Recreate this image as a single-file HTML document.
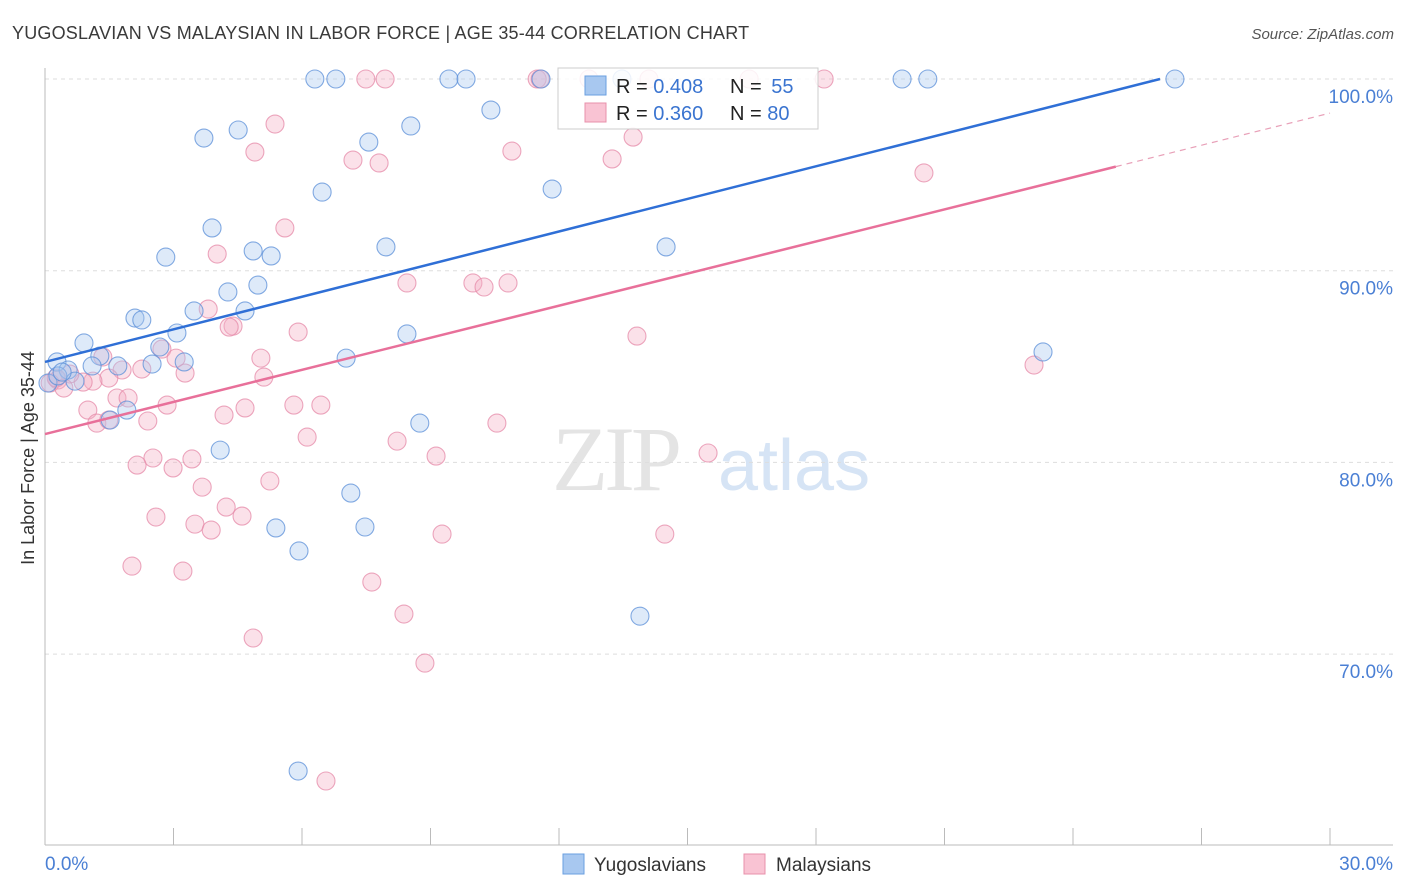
<!DOCTYPE html>
<html><head><meta charset="utf-8"><style>
body{margin:0;background:#fff;font-family:"Liberation Sans",sans-serif}
svg{display:block}
</style></head><body>
<svg id="chart" width="1406" height="892" xmlns="http://www.w3.org/2000/svg">
<text x="12" y="39" font-size="18" fill="#3a3a3a" letter-spacing="0.2">YUGOSLAVIAN VS MALAYSIAN IN LABOR FORCE | AGE 35-44 CORRELATION CHART</text>
<text x="1394" y="39" font-size="15" fill="#555" font-style="italic" text-anchor="end">Source: ZipAtlas.com</text>
<g>
<text x="552" y="490" font-size="92" fill="#e4e4e4" font-family="Liberation Serif,serif" letter-spacing="-4">ZIP</text>
<text x="718" y="490" font-size="72" fill="#d6e4f5">atlas</text>
</g>
<g id="grid"></g>
<g id="axes"></g>
<g id="pts"></g>
<g id="lines"></g>
<text transform="translate(34,458) rotate(-90)" font-size="18" fill="#333" text-anchor="middle">In Labor Force | Age 35-44</text>
<g>
<rect x="558" y="68" width="260" height="61" fill="#fff" fill-opacity="0.85" stroke="#ccc"/>
<rect x="585" y="76" width="21" height="19" fill="#a8c8f0" stroke="#6a9fe0"/>
<rect x="585" y="103" width="21" height="19" fill="#f9c3d3" stroke="#e890ab"/>
<text x="616" y="93" font-size="20" fill="#222">R = <tspan fill="#3a74d0">0.408</tspan></text>
<text x="730" y="93" font-size="20" fill="#222">N = <tspan dx="4" fill="#3a74d0">55</tspan></text>
<text x="616" y="120" font-size="20" fill="#222">R = <tspan fill="#3a74d0">0.360</tspan></text>
<text x="730" y="120" font-size="20" fill="#222">N = <tspan fill="#3a74d0">80</tspan></text>
</g>
<g>
<rect x="563" y="854" width="21" height="20" fill="#a8c8f0" stroke="#6a9fe0"/>
<text x="594" y="871" font-size="19" fill="#333">Yugoslavians</text>
<rect x="744" y="854" width="21" height="20" fill="#f9c3d3" stroke="#e890ab"/>
<text x="776" y="871" font-size="19" fill="#333">Malaysians</text>
</g>
</svg>
<script>
const yTicks=[70,80,90,100];
const yTickLabels=["70.0%","80.0%","90.0%","100.0%"];
const xTickLabels=["0.0%","30.0%"];
const blueX=[6.30,6.79,9.43,9.83,11.58,13.47,20.01,20.61,26.38,10.41,3.71,4.51,7.56,8.54,6.47,11.84,3.90,2.82,4.86,5.28,7.96,14.50,4.27,4.97,2.10,2.26,3.48,4.67,3.08,8.45,0.91,2.68,0.28,1.28,1.70,2.50,3.25,7.03,23.30,0.54,0.70,1.10,1.91,1.52,8.75,4.09,7.14,5.39,7.47,5.93,13.89,5.91,0.07,0.30,0.40];
const blueY=[100,100,100,100,100,100,100,100,100,98.38,96.92,97.34,96.71,97.55,94.10,94.26,92.23,90.71,91.03,90.77,91.24,91.24,88.89,89.25,87.53,87.43,87.90,87.90,86.75,86.70,86.23,86.02,85.24,85.55,85.03,85.13,85.24,85.44,85.76,84.82,84.24,85.03,82.73,82.21,82.05,80.64,78.40,76.58,76.63,75.38,71.98,63.90,84.14,84.51,84.71];
const pinkX=[7.49,7.94,11.49,11.56,12.70,14.10,16.44,18.19,5.37,13.73,4.90,7.19,7.80,10.90,13.24,20.52,5.60,4.02,8.45,9.99,10.25,10.81,3.81,4.39,4.30,5.91,13.82,1.35,2.73,3.06,5.04,3.27,5.11,23.09,1.80,2.26,1.49,1.12,0.89,0.30,0.58,1.00,1.68,1.94,2.85,4.18,4.67,5.81,6.44,1.21,1.49,2.40,6.12,8.22,10.55,9.13,2.52,2.15,2.99,3.43,15.48,3.67,5.25,4.23,4.60,2.59,3.50,3.88,9.27,14.47,2.03,3.22,7.63,8.38,4.86,8.87,6.56,0.12,0.26,0.44];
const pinkY=[100,100,100,100,100,100,100,100,97.65,96.97,96.19,95.77,95.62,96.24,95.83,95.10,92.23,90.87,89.36,89.36,89.15,89.36,88.00,87.11,87.06,86.80,86.59,85.50,85.91,85.44,85.44,84.66,84.45,85.08,84.82,84.87,84.40,84.24,84.19,84.30,84.61,82.73,83.36,83.36,82.99,82.47,82.84,82.99,82.99,82.05,82.21,82.16,81.32,81.11,82.05,80.33,80.23,79.86,79.71,80.18,80.49,78.71,79.03,77.67,77.20,77.15,76.78,76.47,76.26,76.26,74.59,74.33,73.76,72.09,70.84,69.53,63.38,84.14,84.40,83.88];
const blueLine=[85.24,0.567];
const pinkLine=[81.48,0.558];
const NS="http://www.w3.org/2000/svg";
const X=v=>45+v*1285/30;
const Y=v=>79+(100-v)*19.17;
function mk(t,a,p){const e=document.createElementNS(NS,t);for(const k in a)e.setAttribute(k,a[k]);p.appendChild(e);return e;}
const grid=document.getElementById('grid'),axes=document.getElementById('axes'),pts=document.getElementById('pts'),lines=document.getElementById('lines');
yTicks.forEach((t,i)=>{
 const l=mk('line',{x1:45,x2:1393,y1:Y(t),y2:Y(t),stroke:'#ddd','stroke-dasharray':'4,4'},grid);
 
 
 const tx=mk('text',{x:1393,y:Y(t)+24,'font-size':19,fill:'#4a7fd4','text-anchor':'end'},axes);
 tx.textContent=yTickLabels[i];
 
 
});
const ya=mk('line',{x1:45,x2:45,y1:68,y2:845,stroke:'#bbb'},axes);


const xa=mk('line',{x1:45,x2:1393,y1:845,y2:845,stroke:'#bbb'},axes);


for(let i=0;i<=10;i++){
 const t=mk('line',{x1:X(i*3),x2:X(i*3),y1:828,y2:845,stroke:'#bbb'},axes);
 
 
}
[[0,'start',45],[30,'end',1393]].forEach((d,i)=>{
 const tx=mk('text',{x:d[2],y:870,'font-size':19,fill:'#4a7fd4','text-anchor':d[1]},axes);
 tx.textContent=xTickLabels[i];
 
 
});
function dots(xs,ys,fill,stroke,name){
 xs.forEach((x,i)=>{
  const c=mk('circle',{cx:X(x),cy:Y(ys[i]),r:9,fill:fill,'fill-opacity':0.38,stroke:stroke,'stroke-opacity':0.75,'stroke-width':1.1},pts);
  
  
 });
}
dots(pinkX,pinkY,'#f5b0c6','#e58aa8','malaysian-point');
dots(blueX,blueY,'#a8c8f0','#5b8fd8','yugoslavian-point');
const bEnd=(100-blueLine[0])/blueLine[1];
const bl=mk('line',{x1:X(0),y1:Y(blueLine[0]),x2:X(bEnd),y2:Y(100),stroke:'#2f6fd6','stroke-width':2.5},lines);


const pl=mk('line',{x1:X(0),y1:Y(pinkLine[0]),x2:X(25),y2:Y(pinkLine[0]+25*pinkLine[1]),stroke:'#e8709a','stroke-width':2.5},lines);


const pd=mk('line',{x1:X(25),y1:Y(pinkLine[0]+25*pinkLine[1]),x2:X(30),y2:Y(pinkLine[0]+30*pinkLine[1]),stroke:'#e8a0b8','stroke-width':1.2,'stroke-dasharray':'6,5'},lines);


</script>
</body></html>
